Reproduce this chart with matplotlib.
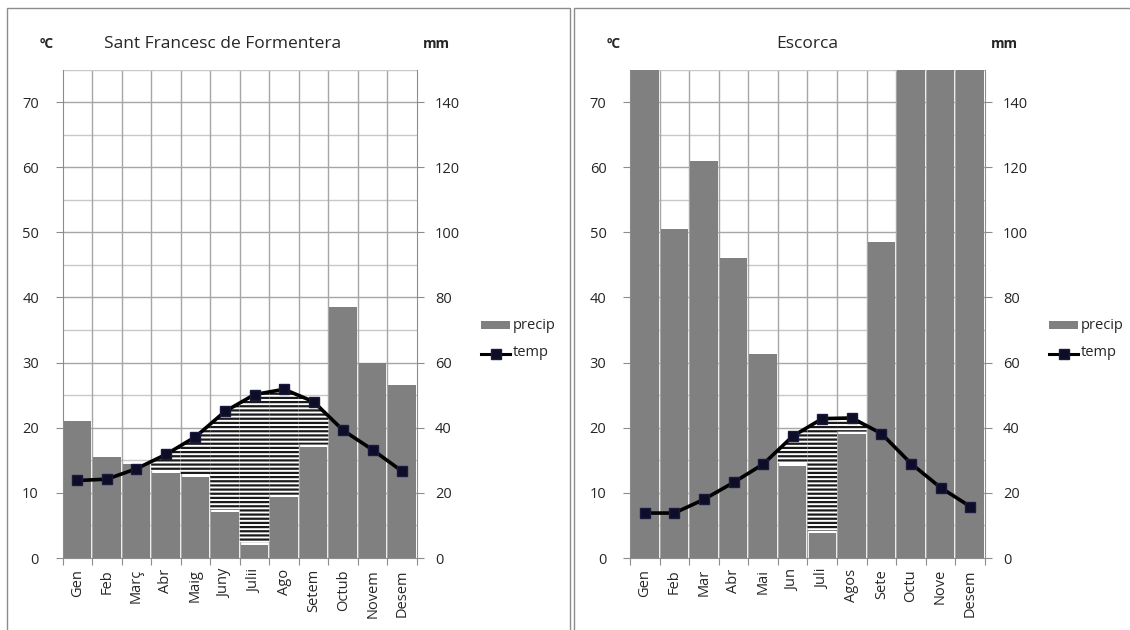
import numpy as np
import matplotlib
matplotlib.use("Agg")
import matplotlib.pyplot as plt
from matplotlib.lines import Line2D
from matplotlib.patches import Rectangle

plt.rcParams['font.family'] = ['Open Sans', 'DejaVu Sans']
plt.rcParams['hatch.linewidth'] = 1.6

# ---- data ----
months_1 = ["Gen", "Feb", "Març", "Abr", "Maig", "Juny", "Julii", "Ago", "Setem", "Octub", "Novem", "Desem"]
precip_1 = [42, 31, 29, 26, 25, 14, 4, 18.6, 34, 77, 60, 53]          # mm
temp_1 = [11.9, 12.1, 13.7, 15.9, 18.6, 22.5, 25.1, 25.9, 24.0, 19.6, 16.6, 13.3]  # ºC
title_1 = "Sant Francesc de Formentera"

months_2 = ["Gen", "Feb", "Mar", "Abr", "Mai", "Jun", "Juli", "Agos", "Sete", "Octu", "Nove", "Desem"]
precip_2 = [170, 101, 122, 92, 62.5, 28.4, 7.6, 38, 97, 190, 200, 175]   # mm
temp_2 = [6.9, 6.9, 9.0, 11.6, 14.4, 18.7, 21.4, 21.5, 19.1, 14.5, 10.8, 7.9]  # ºC
title_2 = "Escorca"

W, H = 1130, 630
fig = plt.figure(figsize=(W / 100, H / 100), dpi=100)

# panel frames
def frame(x0, y0, x1, y1):
    fig.add_artist(Rectangle((x0 / W, 1 - y1 / H), (x1 - x0) / W, (y1 - y0) / H,
                             transform=fig.transFigure, fill=False,
                             edgecolor='#8c8c8c', linewidth=1.0))
frame(7, 7.5, 570, 640)
frame(574, 7.5, 1140, 640)

BAR = '#808080'
GRID = '#a6a6a6'
TXT = '#262626'

def panel(x_left, x_right, months, precip, temp, title, title_dx, leg_x):
    y_top, y_bot = 69.5, 558
    ax = fig.add_axes([x_left / W, 1 - y_bot / H, (x_right - x_left) / W, (y_bot - y_top) / H])
    n = len(months)
    x = np.arange(n)
    p_deg = np.array(precip) / 2.0
    t = np.array(temp)
    ax.set_xlim(-0.5, n - 0.5)
    ax.set_ylim(0, 75)
    # grid
    for v in range(5, 75, 5):
        ax.axhline(v, color=GRID if v % 10 == 0 else '#c8c8c8', lw=1.0, zorder=0)
    for b in np.arange(0.5, n - 0.5, 1):
        ax.axvline(b, color=GRID, lw=1.0, zorder=0)
    ax.axhline(75, color='#c8c8c8', lw=1.0, zorder=0)
    # bars
    ax.bar(x, p_deg, width=0.93, color=BAR, edgecolor='none', zorder=2)
    # arid hatched area
    for i in range(n):
        if t[i] > p_deg[i]:
            xs = np.linspace(i - 0.5, i + 0.5, 60)
            top = np.interp(xs, x, t)
            ax.fill_between(xs, p_deg[i] + 0.4, top, where=top > p_deg[i] + 0.4,
                            facecolor='white', edgecolor='#1a1a1a', hatch='----',
                            linewidth=0, zorder=3)
    # temp line
    ax.plot(x, t, color='black', lw=2.6, marker='s', markersize=7,
            markerfacecolor='#0d0d26', markeredgecolor='#1a1a40', zorder=5, clip_on=False)
    # axes style
    for s in ['top', 'right']:
        ax.spines[s].set_visible(False)
    ax.spines['left'].set_color('#8c8c8c')
    ax.spines['bottom'].set_color('#8c8c8c')
    ax.set_yticks(range(0, 71, 10))
    ax.tick_params(axis='y', colors='#8c8c8c', labelcolor=TXT, labelsize=10.5, length=5, direction='out', pad=12)
    ax.set_xticks(np.arange(-0.5, n, 1), minor=False)
    ax.set_xticklabels([])
    ax.set_xticks(x, minor=True)
    ax.set_xticklabels(months, minor=True, rotation=90, fontsize=10.5, color=TXT)
    ax.tick_params(axis='x', which='major', colors='#8c8c8c', length=5, direction='out')
    ax.tick_params(axis='x', which='minor', length=0, pad=8)
    # right axis
    ax2 = ax.twinx()
    ax2.set_ylim(0, 150)
    ax2.set_yticks(range(0, 141, 20))
    for s in ['top', 'left', 'bottom']:
        ax2.spines[s].set_visible(False)
    ax2.spines['right'].set_color('#8c8c8c')
    ax2.tick_params(axis='y', colors='#8c8c8c', labelcolor=TXT, labelsize=10.5, length=5, direction='out', pad=8)
    # texts
    cx = (x_left + x_right) / 2 + title_dx
    fig.text(cx / W, 1 - 44 / H, title, ha='center', va='center', fontsize=12.5, color=TXT)
    fig.text((x_left - 16) / W, 1 - 44 / H, "ºC", ha='center', va='center', fontsize=10,
             fontweight='bold', color=TXT)
    fig.text((x_right + 19) / W, 1 - 44 / H, "mm", ha='center', va='center', fontsize=10,
             fontweight='bold', color=TXT)
    # legend
    fig.add_artist(Rectangle(((leg_x) / W, 1 - 329 / H), 29 / W, 8 / H, transform=fig.transFigure,
                             facecolor=BAR, edgecolor='none'))
    fig.text((leg_x + 32) / W, 1 - 325 / H, "precip", ha='left', va='center', fontsize=10.5, color=TXT)
    fig.add_artist(Line2D([leg_x / W, (leg_x + 29) / W], [1 - 354 / H, 1 - 354 / H],
                          transform=fig.transFigure, color='black', lw=2.2))
    fig.add_artist(Line2D([(leg_x + 14.5) / W], [1 - 354 / H], transform=fig.transFigure,
                          marker='s', markersize=7, color='#0d0d26', markeredgecolor='#1a1a40'))
    fig.text((leg_x + 32) / W, 1 - 353 / H, "temp", ha='left', va='center', fontsize=10.5, color=TXT)

panel(62.5, 417, months_1, precip_1, temp_1, title_1, -17, 481)
panel(630, 985, months_2, precip_2, temp_2, title_2, 0, 1049)

fig.savefig("out.png", dpi=100)
